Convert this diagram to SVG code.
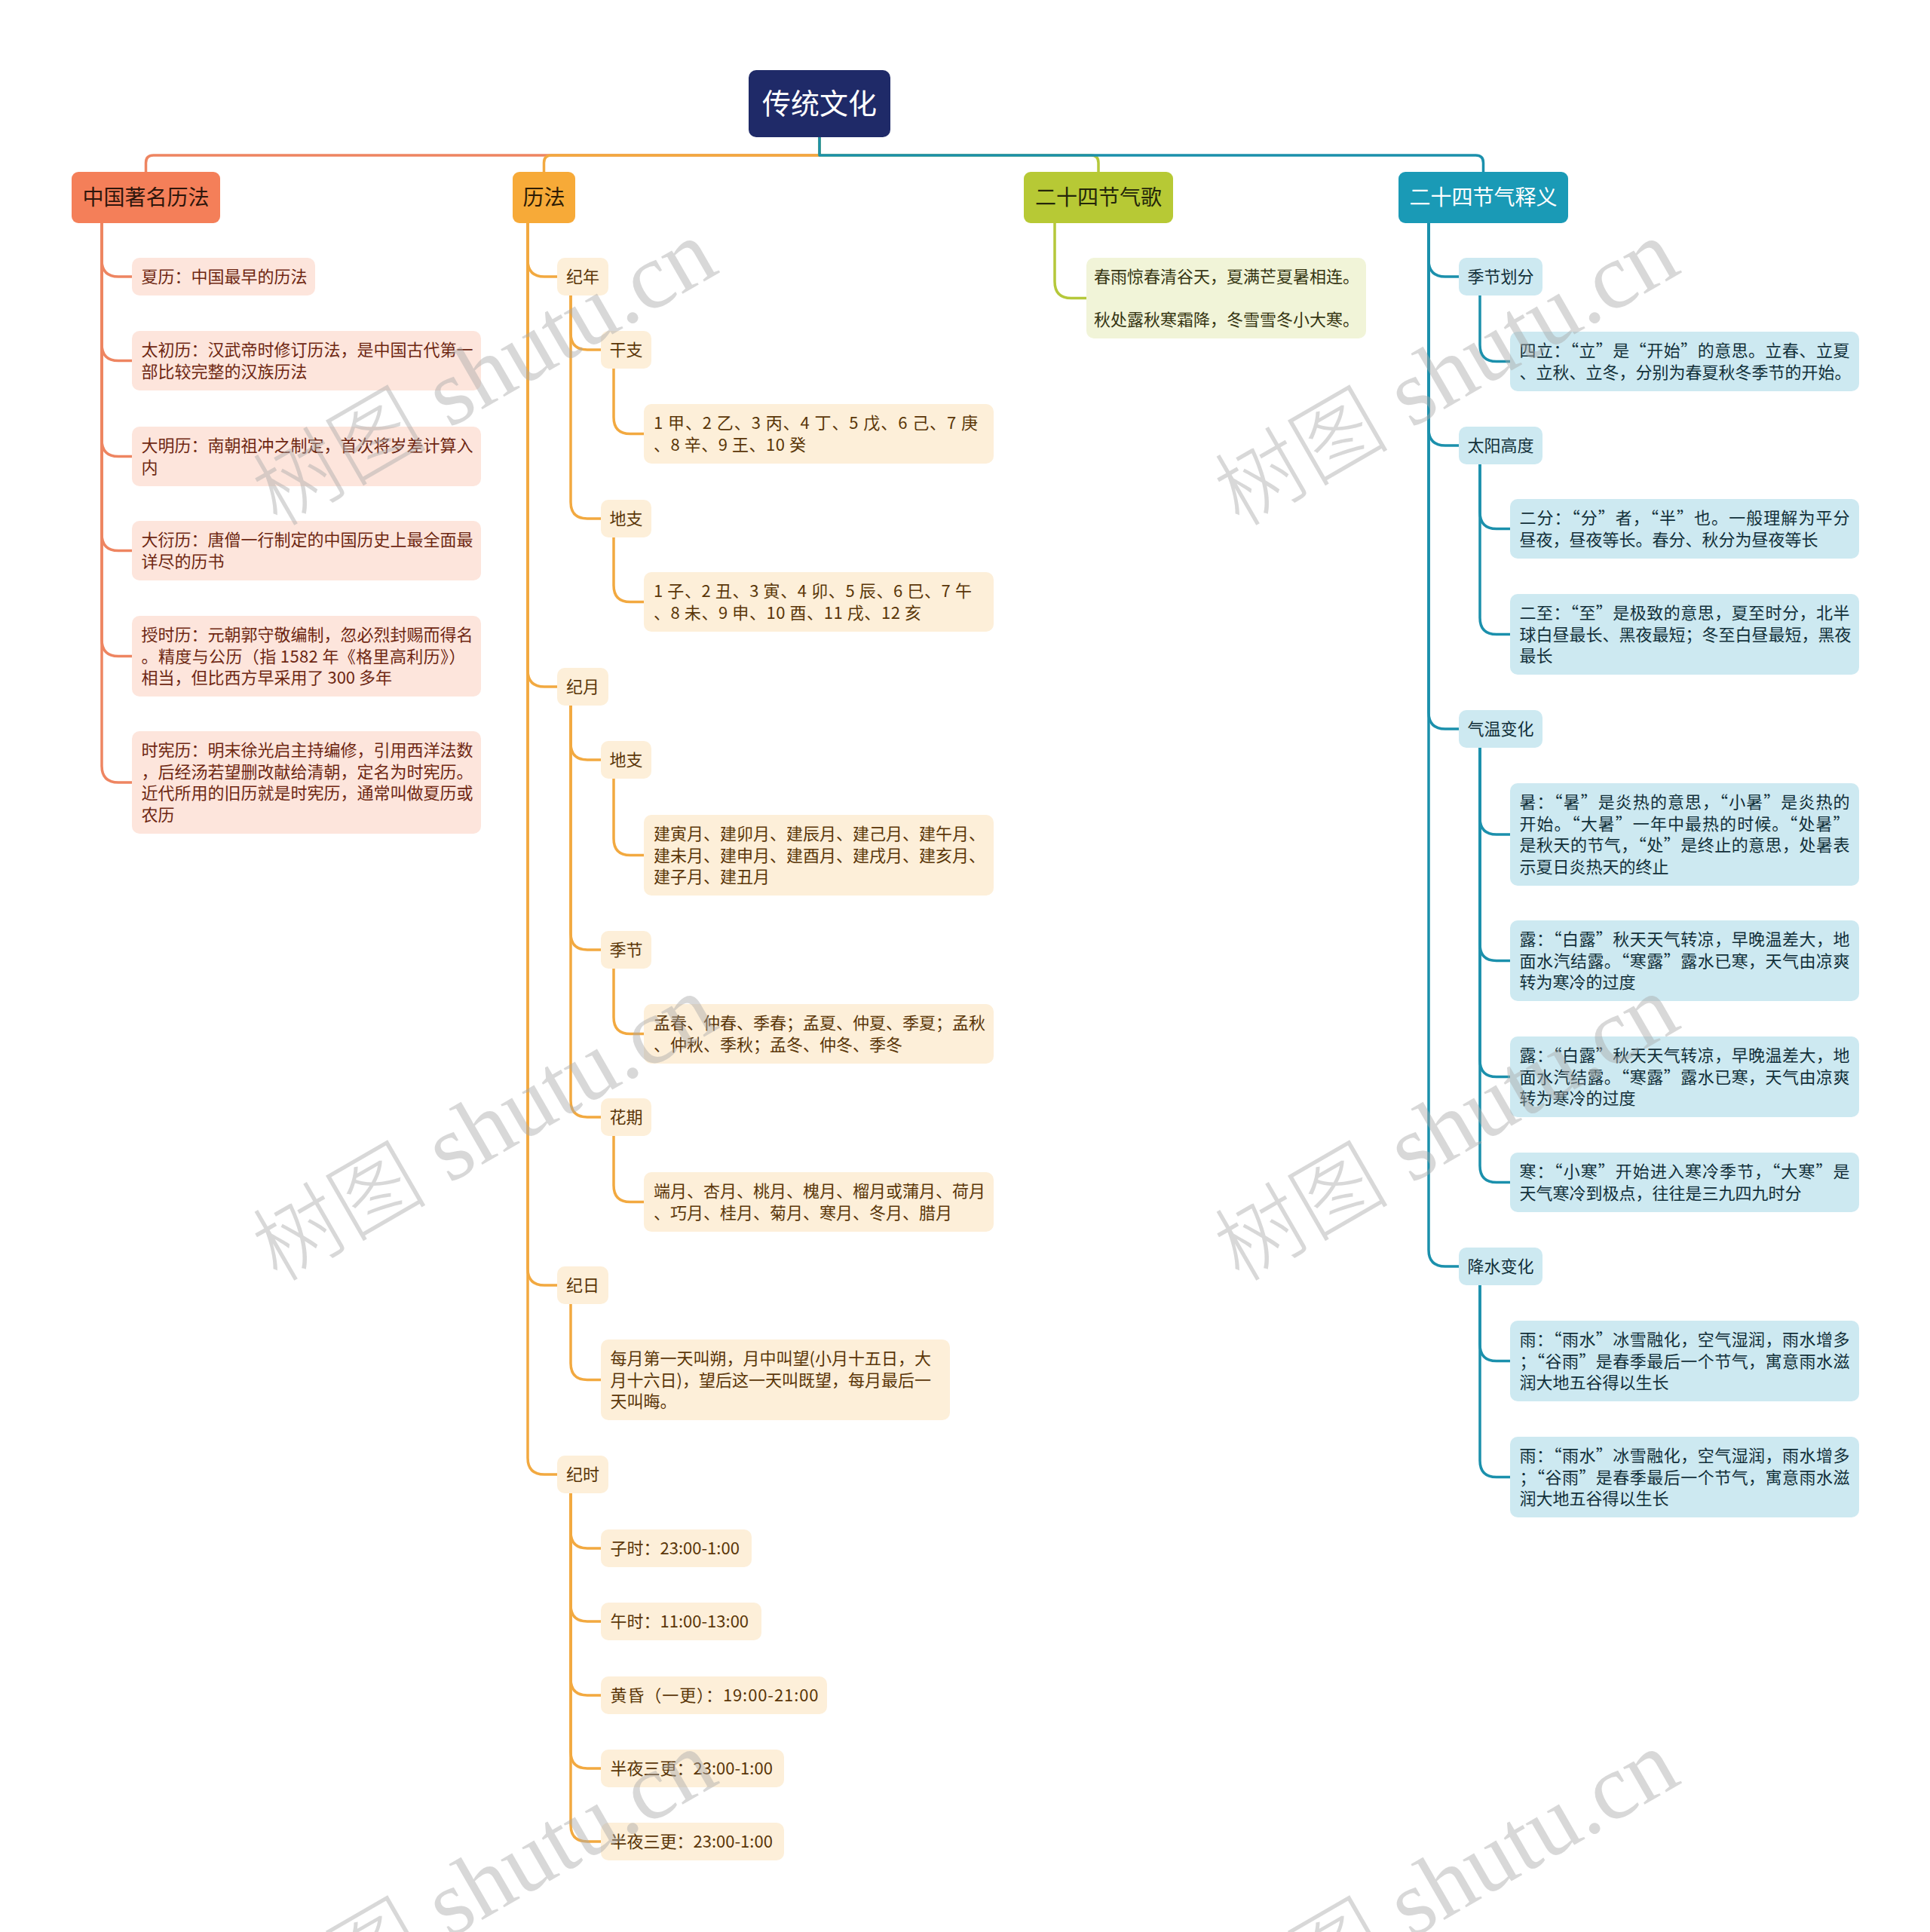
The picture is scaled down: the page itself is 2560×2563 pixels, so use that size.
<svg xmlns="http://www.w3.org/2000/svg" width="2560" height="2563" viewBox="0 0 2560 2563">
<style>
text{font-family:"Noto Sans CJK SC","Noto Sans",sans-serif;}
.t22{font-size:22px;}
.t28{font-size:28px;}
.c{stroke-width:3.5;fill:none;stroke-linecap:round;stroke-linejoin:round;}
.cr{stroke:#ee8561;}
.or{stroke:#f2a940;}
.yg{stroke:#b5c83a;}
.tl{stroke:#1b90ac;}
.fcr{fill:#fde5dc;}
.for{fill:#fdefd9;}
.fyg{fill:#f1f4d8;}
.ftl{fill:#cde9f1;}
.xcr{fill:#6e2712;}
.xor{fill:#5a3608;}
.xyg{fill:#353512;}
.xtl{fill:#12303a;}
.wm{font-family:"Liberation Serif","Noto Sans CJK SC",serif;font-size:124px;fill:#a8a8a8;fill-opacity:0.45;}
.wmc{font-family:"Noto Sans CJK SC",sans-serif;font-weight:300;font-size:116px;}
</style>
<rect width="2560" height="2563" fill="#ffffff"/>

<g id="connectors">
<path class="c cr" d="M1087,182 V206 H203.5 Q193.5,206 193.5,216 V228"/>
<path class="c or" d="M1087,182 V206 H731.5 Q721.5,206 721.5,216 V228"/>
<path class="c yg" d="M1087,182 V206 H1447 Q1457,206 1457,216 V228"/>
<path class="c tl" d="M1087,182 V206 H1957.5 Q1967.5,206 1967.5,216 V228"/>

<path class="c cr" d="M135,296 V345 Q135,367 157,367 H175"/>
<path class="c cr" d="M135,296 V456.5 Q135,478.5 157,478.5 H175"/>
<path class="c cr" d="M135,296 V583.5 Q135,605.5 157,605.5 H175"/>
<path class="c cr" d="M135,296 V708.5 Q135,730.5 157,730.5 H175"/>
<path class="c cr" d="M135,296 V848.5 Q135,870.5 157,870.5 H175"/>
<path class="c cr" d="M135,296 V1016 Q135,1038 157,1038 H175"/>

<path class="c or" d="M700,296 V345 Q700,367 722,367 H739"/>
<path class="c or" d="M700,296 V889 Q700,911 722,911 H739"/>
<path class="c or" d="M700,296 V1683 Q700,1705 722,1705 H739"/>
<path class="c or" d="M700,296 V1934 Q700,1956 722,1956 H739"/>
<path class="c or" d="M757,392 V442 Q757,464 779,464 H797"/>
<path class="c or" d="M757,392 V666 Q757,688 779,688 H797"/>
<path class="c or" d="M814,489 V553.5 Q814,575.5 836,575.5 H854"/>
<path class="c or" d="M814,713 V776.5 Q814,798.5 836,798.5 H854"/>
<path class="c or" d="M757,936 V986 Q757,1008 779,1008 H797"/>
<path class="c or" d="M757,936 V1238 Q757,1260 779,1260 H797"/>
<path class="c or" d="M757,936 V1460 Q757,1482 779,1482 H797"/>
<path class="c or" d="M814,1033 V1112.5 Q814,1134.5 836,1134.5 H854"/>
<path class="c or" d="M814,1285 V1349.5 Q814,1371.5 836,1371.5 H854"/>
<path class="c or" d="M814,1507 V1572.5 Q814,1594.5 836,1594.5 H854"/>
<path class="c or" d="M757,1730 V1808.5 Q757,1830.5 779,1830.5 H797"/>
<path class="c or" d="M757,1981 V2032 Q757,2054 779,2054 H797"/>
<path class="c or" d="M757,1981 V2129 Q757,2151 779,2151 H797"/>
<path class="c or" d="M757,1981 V2227 Q757,2249 779,2249 H797"/>
<path class="c or" d="M757,1981 V2324 Q757,2346 779,2346 H797"/>
<path class="c or" d="M757,1981 V2421 Q757,2443 779,2443 H797"/>

<path class="c yg" d="M1399,296 V373.5 Q1399,395.5 1421,395.5 H1441"/>

<path class="c tl" d="M1895,296 V345 Q1895,367 1917,367 H1935"/>
<path class="c tl" d="M1895,296 V569 Q1895,591 1917,591 H1935"/>
<path class="c tl" d="M1895,296 V945 Q1895,967 1917,967 H1935"/>
<path class="c tl" d="M1895,296 V1658 Q1895,1680 1917,1680 H1935"/>
<path class="c tl" d="M1963,392 V457.5 Q1963,479.5 1985,479.5 H2003"/>
<path class="c tl" d="M1963,616 V679.5 Q1963,701.5 1985,701.5 H2003"/>
<path class="c tl" d="M1963,616 V819.5 Q1963,841.5 1985,841.5 H2003"/>
<path class="c tl" d="M1963,992 V1085 Q1963,1107 1985,1107 H2003"/>
<path class="c tl" d="M1963,992 V1252.5 Q1963,1274.5 1985,1274.5 H2003"/>
<path class="c tl" d="M1963,992 V1406.5 Q1963,1428.5 1985,1428.5 H2003"/>
<path class="c tl" d="M1963,992 V1546.5 Q1963,1568.5 1985,1568.5 H2003"/>
<path class="c tl" d="M1963,1705 V1783.5 Q1963,1805.5 1985,1805.5 H2003"/>
<path class="c tl" d="M1963,1705 V1937.5 Q1963,1959.5 1985,1959.5 H2003"/>
</g>

<g id="root">
<rect x="993" y="93" width="188" height="89" rx="10" fill="#1f2a68"/>
<text x="1087" y="151" font-size="38" fill="#ffffff" text-anchor="middle">传统文化</text>
</g>

<g id="n-zgzmlf">
<rect x="95" y="228" width="197" height="68" rx="9" fill="#f47f59"/>
<text class="t28" x="193.5" y="272" fill="#2e160c" text-anchor="middle">中国著名历法</text>
</g>
<g id="n-lifa">
<rect x="680" y="228" width="83" height="68" rx="9" fill="#f7aa38"/>
<text class="t28" x="721.5" y="272" fill="#2e1c06" text-anchor="middle">历法</text>
</g>
<g id="n-jqg">
<rect x="1358" y="228" width="198" height="68" rx="9" fill="#b7c935"/>
<text class="t28" x="1457" y="272" fill="#24260a" text-anchor="middle">二十四节气歌</text>
</g>
<g id="n-jqsy">
<rect x="1855" y="228" width="225" height="68" rx="9" fill="#1a9ab6"/>
<text class="t28" x="1967.5" y="272" fill="#ffffff" text-anchor="middle">二十四节气释义</text>
</g>

<g id="n-xiali">
<rect class="fcr" x="175" y="342" width="243" height="50" rx="10"/>
<text class="t22 xcr" x="187.5" y="375">夏历：中国最早的历法</text>
</g>
<g id="n-taichu">
<rect class="fcr" x="175" y="439" width="463" height="79" rx="10"/>
<text class="t22 xcr" x="187.5" y="472"><tspan x="187.5">太初历：汉武帝时修订历法，是中国古代第一</tspan><tspan x="187.5" dy="28.5">部比较完整的汉族历法</tspan></text>
</g>
<g id="n-daming">
<rect class="fcr" x="175" y="566" width="463" height="79" rx="10"/>
<text class="t22 xcr" x="187.5" y="599"><tspan x="187.5">大明历：南朝祖冲之制定，首次将岁差计算入</tspan><tspan x="187.5" dy="28.5">内</tspan></text>
</g>
<g id="n-dayan">
<rect class="fcr" x="175" y="691" width="463" height="79" rx="10"/>
<text class="t22 xcr" x="187.5" y="724"><tspan x="187.5">大衍历：唐僧一行制定的中国历史上最全面最</tspan><tspan x="187.5" dy="28.5">详尽的历书</tspan></text>
</g>
<g id="n-shoushi">
<rect class="fcr" x="175" y="817" width="463" height="107" rx="10"/>
<text class="t22 xcr" x="187.5" y="850">授时历：元朝郭守敬编制，忽必烈封赐而得名</text>
<text class="t22 xcr" x="187.5" y="878.5" textLength="430" lengthAdjust="spacing">。精度与公历（指 1582 年《格里高利历》）</text>
<text class="t22 xcr" x="187.5" y="907">相当，但比西方早采用了 300 多年</text>
</g>
<g id="n-shixian">
<rect class="fcr" x="175" y="970" width="463" height="136" rx="10"/>
<text class="t22 xcr" x="187.5" y="1003"><tspan x="187.5">时宪历：明末徐光启主持编修，引用西洋法数</tspan><tspan x="187.5" dy="28.5">，后经汤若望删改献给清朝，定名为时宪历。</tspan><tspan x="187.5" dy="28.5">近代所用的旧历就是时宪历，通常叫做夏历或</tspan><tspan x="187.5" dy="28.5">农历</tspan></text>
</g>

<g id="n-jinian">
<rect class="for" x="739" y="342" width="68" height="50" rx="10"/>
<text class="t22 xor" x="773" y="375" text-anchor="middle">纪年</text>
</g>
<g id="n-ganzhi">
<rect class="for" x="797" y="439" width="67" height="50" rx="10"/>
<text class="t22 xor" x="830.5" y="472" text-anchor="middle">干支</text>
</g>
<g id="n-tiangan-list">
<rect class="for" x="854" y="536" width="464" height="79" rx="10"/>
<text class="t22 xor" x="867" y="569" textLength="430" lengthAdjust="spacing"> 1 甲、2 乙、3 丙、4 丁、5 戊、6 己、7 庚</text>
<text class="t22 xor" x="867" y="597.5" textLength="202" lengthAdjust="spacing">、8 辛、9 王、10 癸</text>
</g>
<g id="n-dizhi1">
<rect class="for" x="797" y="663" width="67" height="50" rx="10"/>
<text class="t22 xor" x="830.5" y="696" text-anchor="middle">地支</text>
</g>
<g id="n-dizhi-list">
<rect class="for" x="854" y="759" width="464" height="79" rx="10"/>
<text class="t22 xor" x="867" y="792" textLength="422" lengthAdjust="spacing">1 子、2 丑、3 寅、4 卯、5 辰、6 巳、7 午</text>
<text class="t22 xor" x="867" y="820.5" textLength="355" lengthAdjust="spacing">、8 未、9 申、10 酉、11 戌、12 亥</text>
</g>
<g id="n-jiyue">
<rect class="for" x="739" y="886" width="68" height="50" rx="10"/>
<text class="t22 xor" x="773" y="919" text-anchor="middle">纪月</text>
</g>
<g id="n-dizhi2">
<rect class="for" x="797" y="983" width="67" height="50" rx="10"/>
<text class="t22 xor" x="830.5" y="1016" text-anchor="middle">地支</text>
</g>
<g id="n-jianyue">
<rect class="for" x="854" y="1081" width="464" height="107" rx="10"/>
<text class="t22 xor" x="867" y="1114"><tspan x="867">建寅月、建卯月、建辰月、建己月、建午月、</tspan><tspan x="867" dy="28.5">建未月、建申月、建酉月、建戌月、建亥月、</tspan><tspan x="867" dy="28.5">建子月、建丑月</tspan></text>
</g>
<g id="n-jijie">
<rect class="for" x="797" y="1235" width="67" height="50" rx="10"/>
<text class="t22 xor" x="830.5" y="1268" text-anchor="middle">季节</text>
</g>
<g id="n-mengchun">
<rect class="for" x="854" y="1332" width="464" height="79" rx="10"/>
<text class="t22 xor" x="867" y="1365"><tspan x="867">孟春、仲春、季春；孟夏、仲夏、季夏；孟秋</tspan><tspan x="867" dy="28.5">、仲秋、季秋；孟冬、仲冬、季冬</tspan></text>
</g>
<g id="n-huaqi">
<rect class="for" x="797" y="1457" width="67" height="50" rx="10"/>
<text class="t22 xor" x="830.5" y="1490" text-anchor="middle">花期</text>
</g>
<g id="n-duanyue">
<rect class="for" x="854" y="1555" width="464" height="79" rx="10"/>
<text class="t22 xor" x="867" y="1588"><tspan x="867">端月、杏月、桃月、槐月、榴月或蒲月、荷月</tspan><tspan x="867" dy="28.5">、巧月、桂月、菊月、寒月、冬月、腊月</tspan></text>
</g>
<g id="n-jiri">
<rect class="for" x="739" y="1680" width="68" height="50" rx="10"/>
<text class="t22 xor" x="773" y="1713" text-anchor="middle">纪日</text>
</g>
<g id="n-shuowang">
<rect class="for" x="797" y="1777" width="463" height="107" rx="10"/>
<text class="t22 xor" x="809.5" y="1810"><tspan x="809.5">每月第一天叫朔，月中叫望(小月十五日，大</tspan><tspan x="809.5" dy="28.5">月十六日)，望后这一天叫既望，每月最后一</tspan><tspan x="809.5" dy="28.5">天叫晦。</tspan></text>
</g>
<g id="n-jishi">
<rect class="for" x="739" y="1931" width="68" height="50" rx="10"/>
<text class="t22 xor" x="773" y="1964" text-anchor="middle">纪时</text>
</g>
<g id="n-zishi">
<rect class="for" x="797" y="2029" width="200" height="50" rx="10"/>
<text class="t22 xor" x="809.5" y="2062">子时：23:00-1:00</text>
</g>
<g id="n-wushi">
<rect class="for" x="797" y="2126" width="213" height="50" rx="10"/>
<text class="t22 xor" x="809.5" y="2159">午时：11:00-13:00</text>
</g>
<g id="n-huanghun">
<rect class="for" x="797" y="2224" width="300" height="50" rx="10"/>
<text class="t22 xor" x="809.5" y="2257" textLength="276" lengthAdjust="spacing">黄昏（一更）：19:00-21:00</text>
</g>
<g id="n-banye1">
<rect class="for" x="797" y="2321" width="243" height="50" rx="10"/>
<text class="t22 xor" x="809.5" y="2354">半夜三更：23:00-1:00</text>
</g>
<g id="n-banye2">
<rect class="for" x="797" y="2418" width="243" height="50" rx="10"/>
<text class="t22 xor" x="809.5" y="2451">半夜三更：23:00-1:00</text>
</g>

<g id="n-gequ">
<rect class="fyg" x="1441" y="342" width="371" height="107" rx="10"/>
<text class="t22 xyg" x="1451" y="375"><tspan x="1451">春雨惊春清谷天，夏满芒夏暑相连。</tspan><tspan x="1451" dy="57">秋处露秋寒霜降，冬雪雪冬小大寒。</tspan></text>
</g>

<g id="n-jijiehuafen">
<rect class="ftl" x="1935" y="342" width="111" height="50" rx="10"/>
<text class="t22 xtl" x="1990.5" y="375" text-anchor="middle">季节划分</text>
</g>
<g id="n-sili">
<rect class="ftl" x="2003" y="440" width="463" height="79" rx="10"/>
<text class="t22 xtl" x="2015.5" y="473" textLength="438" lengthAdjust="spacing">四立：“立”是“开始”的意思。立春、立夏</text>
<text class="t22 xtl" x="2015.5" y="501.5">、立秋、立冬，分别为春夏秋冬季节的开始。</text>
</g>
<g id="n-taiyang">
<rect class="ftl" x="1935" y="566" width="111" height="50" rx="10"/>
<text class="t22 xtl" x="1990.5" y="599" text-anchor="middle">太阳高度</text>
</g>
<g id="n-erfen">
<rect class="ftl" x="2003" y="662" width="463" height="79" rx="10"/>
<text class="t22 xtl" x="2015.5" y="695" textLength="438" lengthAdjust="spacing">二分：“分”者，“半”也。一般理解为平分</text>
<text class="t22 xtl" x="2015.5" y="723.5">昼夜，昼夜等长。春分、秋分为昼夜等长</text>
</g>
<g id="n-erzhi">
<rect class="ftl" x="2003" y="788" width="463" height="107" rx="10"/>
<text class="t22 xtl" x="2015.5" y="821" textLength="438" lengthAdjust="spacing">二至：“至”是极致的意思，夏至时分，北半</text>
<text class="t22 xtl" x="2015.5" y="849.5">球白昼最长、黑夜最短；冬至白昼最短，黑夜</text>
<text class="t22 xtl" x="2015.5" y="878">最长</text>
</g>
<g id="n-qiwen">
<rect class="ftl" x="1935" y="942" width="111" height="50" rx="10"/>
<text class="t22 xtl" x="1990.5" y="975" text-anchor="middle">气温变化</text>
</g>
<g id="n-shu">
<rect class="ftl" x="2003" y="1039" width="463" height="136" rx="10"/>
<text class="t22 xtl" x="2015.5" y="1072" textLength="438" lengthAdjust="spacing">暑：“暑”是炎热的意思，“小暑”是炎热的</text>
<text class="t22 xtl" x="2015.5" y="1100.5" textLength="438" lengthAdjust="spacing">开始。“大暑”一年中最热的时候。“处暑”</text>
<text class="t22 xtl" x="2015.5" y="1129" textLength="438" lengthAdjust="spacing">是秋天的节气，“处”是终止的意思，处暑表</text>
<text class="t22 xtl" x="2015.5" y="1157.5">示夏日炎热天的终止</text>
</g>
<g id="n-lu1">
<rect class="ftl" x="2003" y="1221" width="463" height="107" rx="10"/>
<text class="t22 xtl" x="2015.5" y="1254" textLength="438" lengthAdjust="spacing">露：“白露”秋天天气转凉，早晚温差大，地</text>
<text class="t22 xtl" x="2015.5" y="1282.5" textLength="438" lengthAdjust="spacing">面水汽结露。“寒露”露水已寒，天气由凉爽</text>
<text class="t22 xtl" x="2015.5" y="1311">转为寒冷的过度</text>
</g>
<g id="n-lu2">
<rect class="ftl" x="2003" y="1375" width="463" height="107" rx="10"/>
<text class="t22 xtl" x="2015.5" y="1408" textLength="438" lengthAdjust="spacing">露：“白露”秋天天气转凉，早晚温差大，地</text>
<text class="t22 xtl" x="2015.5" y="1436.5" textLength="438" lengthAdjust="spacing">面水汽结露。“寒露”露水已寒，天气由凉爽</text>
<text class="t22 xtl" x="2015.5" y="1465">转为寒冷的过度</text>
</g>
<g id="n-han">
<rect class="ftl" x="2003" y="1529" width="463" height="79" rx="10"/>
<text class="t22 xtl" x="2015.5" y="1562" textLength="438" lengthAdjust="spacing">寒：“小寒”开始进入寒冷季节，“大寒”是</text>
<text class="t22 xtl" x="2015.5" y="1590.5">天气寒冷到极点，往往是三九四九时分</text>
</g>
<g id="n-jiangshui">
<rect class="ftl" x="1935" y="1655" width="111" height="50" rx="10"/>
<text class="t22 xtl" x="1990.5" y="1688" text-anchor="middle">降水变化</text>
</g>
<g id="n-yu1">
<rect class="ftl" x="2003" y="1752" width="463" height="107" rx="10"/>
<text class="t22 xtl" x="2015.5" y="1785" textLength="438" lengthAdjust="spacing">雨：“雨水”冰雪融化，空气湿润，雨水增多</text>
<text class="t22 xtl" x="2015.5" y="1813.5" textLength="438" lengthAdjust="spacing">；“谷雨”是春季最后一个节气，寓意雨水滋</text>
<text class="t22 xtl" x="2015.5" y="1842">润大地五谷得以生长</text>
</g>
<g id="n-yu2">
<rect class="ftl" x="2003" y="1906" width="463" height="107" rx="10"/>
<text class="t22 xtl" x="2015.5" y="1939" textLength="438" lengthAdjust="spacing">雨：“雨水”冰雪融化，空气湿润，雨水增多</text>
<text class="t22 xtl" x="2015.5" y="1967.5" textLength="438" lengthAdjust="spacing">；“谷雨”是春季最后一个节气，寓意雨水滋</text>
<text class="t22 xtl" x="2015.5" y="1996">润大地五谷得以生长</text>
</g>

<g id="watermark">
<text class="wm" transform="translate(368,700) rotate(-30)"><tspan class="wmc">树图</tspan> shutu.cn</text>
<text class="wm" transform="translate(1644,700) rotate(-30)"><tspan class="wmc">树图</tspan> shutu.cn</text>
<text class="wm" transform="translate(368,1702) rotate(-30)"><tspan class="wmc">树图</tspan> shutu.cn</text>
<text class="wm" transform="translate(1644,1702) rotate(-30)"><tspan class="wmc">树图</tspan> shutu.cn</text>
<text class="wm" transform="translate(368,2704) rotate(-30)"><tspan class="wmc">树图</tspan> shutu.cn</text>
<text class="wm" transform="translate(1644,2704) rotate(-30)"><tspan class="wmc">树图</tspan> shutu.cn</text>
</g>
</svg>
